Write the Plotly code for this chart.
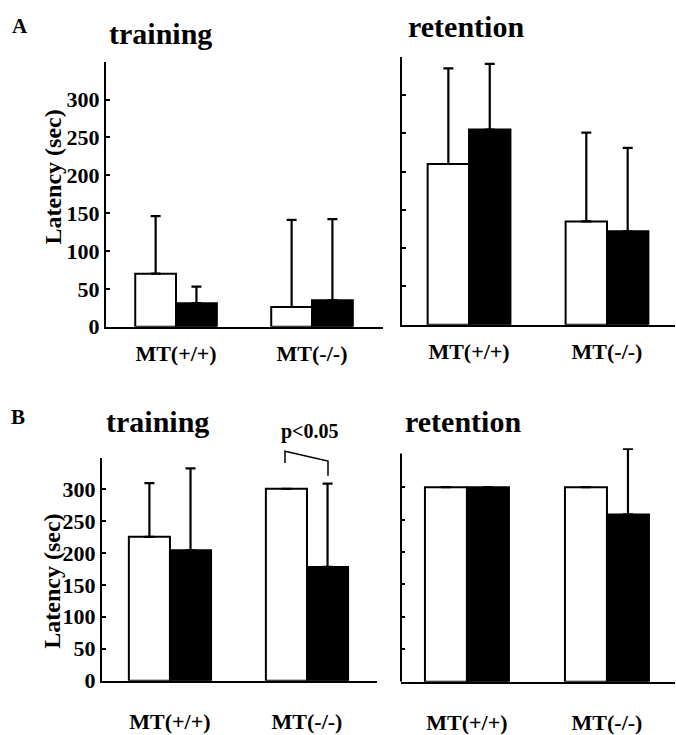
import plotly.graph_objects as go

# ---- data -------------------------------------------------------------
groups = ["MT(+/+)", "MT(-/-)"]

# Panel A: latency (sec), white = first bar, black = second bar
a_train_white = [70, 26]
a_train_white_err = [76, 115]
a_train_black = [31, 35]
a_train_black_err = [22, 107]

a_ret_white = [210, 135]
a_ret_white_err = [125, 116]
a_ret_black = [255, 122]
a_ret_black_err = [86, 109]

# Panel B
b_train_white = [225, 300]
b_train_white_err = [84, None]
b_train_black = [204, 178]
b_train_black_err = [128, 130]

b_ret_white = [300, 300]
b_ret_white_err = [None, None]
b_ret_black = [300, 258]
b_ret_black_err = [None, 101]

y_ticks = [0, 50, 100, 150, 200, 250, 300]

# ---- layout helpers (pixel geometry of the 676x735 page) --------------
W, H = 676, 735
FONT = "Liberation Serif"


def xd(left, right):
    return [left / W, right / W]


def yd(top, bottom):
    return [1 - bottom / H, 1 - top / H]


def px(x):
    return x / W


def py(y):
    return 1 - y / H


fig = go.Figure()

x_pos = [0, 1]


def add_pair(white, white_err, black, black_err, xa, ya):
    for vals, errs, fill in ((white, white_err, "white"), (black, black_err, "black")):
        fig.add_trace(go.Bar(
            x=x_pos, y=vals,
            marker=dict(color=fill, line=dict(color="black", width=2)),
            error_y=dict(type="data", array=errs, arrayminus=[0, 0], symmetric=False,
                         color="black", thickness=2.2, width=5),
            xaxis=xa, yaxis=ya, showlegend=False,
        ))


add_pair(a_train_white, a_train_white_err, a_train_black, a_train_black_err, "x", "y")
add_pair(a_ret_white, a_ret_white_err, a_ret_black, a_ret_black_err, "x2", "y2")
add_pair(b_train_white, b_train_white_err, b_train_black, b_train_black_err, "x3", "y3")
add_pair(b_ret_white, b_ret_white_err, b_ret_black, b_ret_black_err, "x4", "y4")

tickfont = dict(family=FONT, size=22, color="black", weight="bold")


def xaxis(domain, rng, anchor, standoff):
    return dict(domain=domain, range=rng, anchor=anchor, showgrid=False, zeroline=False,
                showline=True, linecolor="black", linewidth=2, ticks="",
                tickvals=x_pos, ticktext=groups, tickfont=tickfont,
                ticklabelstandoff=standoff, fixedrange=True)


def yaxis(domain, rng, anchor, labels, line=True):
    return dict(domain=domain, range=rng, anchor=anchor, showgrid=False, zeroline=False,
                showline=line, linecolor="black", linewidth=2,
                ticks="inside", ticklen=4, tickwidth=2, tickcolor="black",
                tickvals=y_ticks, showticklabels=labels, tickfont=tickfont,
                fixedrange=True)


fig.update_layout(
    width=W, height=H,
    margin=dict(l=0, r=0, t=0, b=0),
    paper_bgcolor="white", plot_bgcolor="white",
    barmode="group", bargap=0.4, bargroupgap=0,
    font=dict(family=FONT, color="black"),
    xaxis=xaxis(xd(106, 383), [-0.515, 1.522], "y", 6),
    yaxis=yaxis(yd(63, 333), [0, 350], "x", True),
    xaxis2=xaxis(xd(402, 675), [-0.486, 1.493], "y2", 6),
    yaxis2=yaxis(yd(58, 331), [0, 350], "x2", False),
    xaxis3=xaxis(xd(102, 377), [-0.496, 1.511], "y3", 20),
    yaxis3=yaxis(yd(467, 694), [0, 348], "x3", True),
    xaxis4=xaxis(xd(401, 675), [-0.471, 1.486], "y4", 20),
    yaxis4=yaxis(yd(457, 695), [0, 360], "x4", False, line=False),
)

# left axis line of the B retention panel stops below the top of its range
fig.add_shape(type="line", xref="x4 domain", yref="y4", x0=0, x1=0, y0=0, y1=352,
              line=dict(color="black", width=2))

# significance bracket over MT(-/-) training in panel B
fig.add_shape(type="path", xref="paper", yref="paper",
              path=f"M {px(285)} {py(472)} L {px(285)} {py(460)} "
                   f"L {px(328)} {py(470)} L {px(328)} {py(485)}",
              line=dict(color="black", width=1.5))


def label(text, x, y, size, angle=0):
    fig.add_annotation(text=f"<b>{text}</b>", x=px(x), y=py(y), xref="paper", yref="paper",
                       showarrow=False, xanchor="center", yanchor="middle",
                       textangle=angle, font=dict(family=FONT, size=size, color="black"))


label("A", 20, 26, 21)
label("training", 160, 34, 30)
label("retention", 466, 27, 30)
label("Latency (sec)", 53, 181, 24, -90)

label("B", 18, 425, 21)
label("training", 157, 430, 30)
label("retention", 463, 430, 30)
label("Latency (sec)", 52, 593, 24, -90)
label("p&lt;0.05", 310, 440, 20)

fig.write_html("out.html")
